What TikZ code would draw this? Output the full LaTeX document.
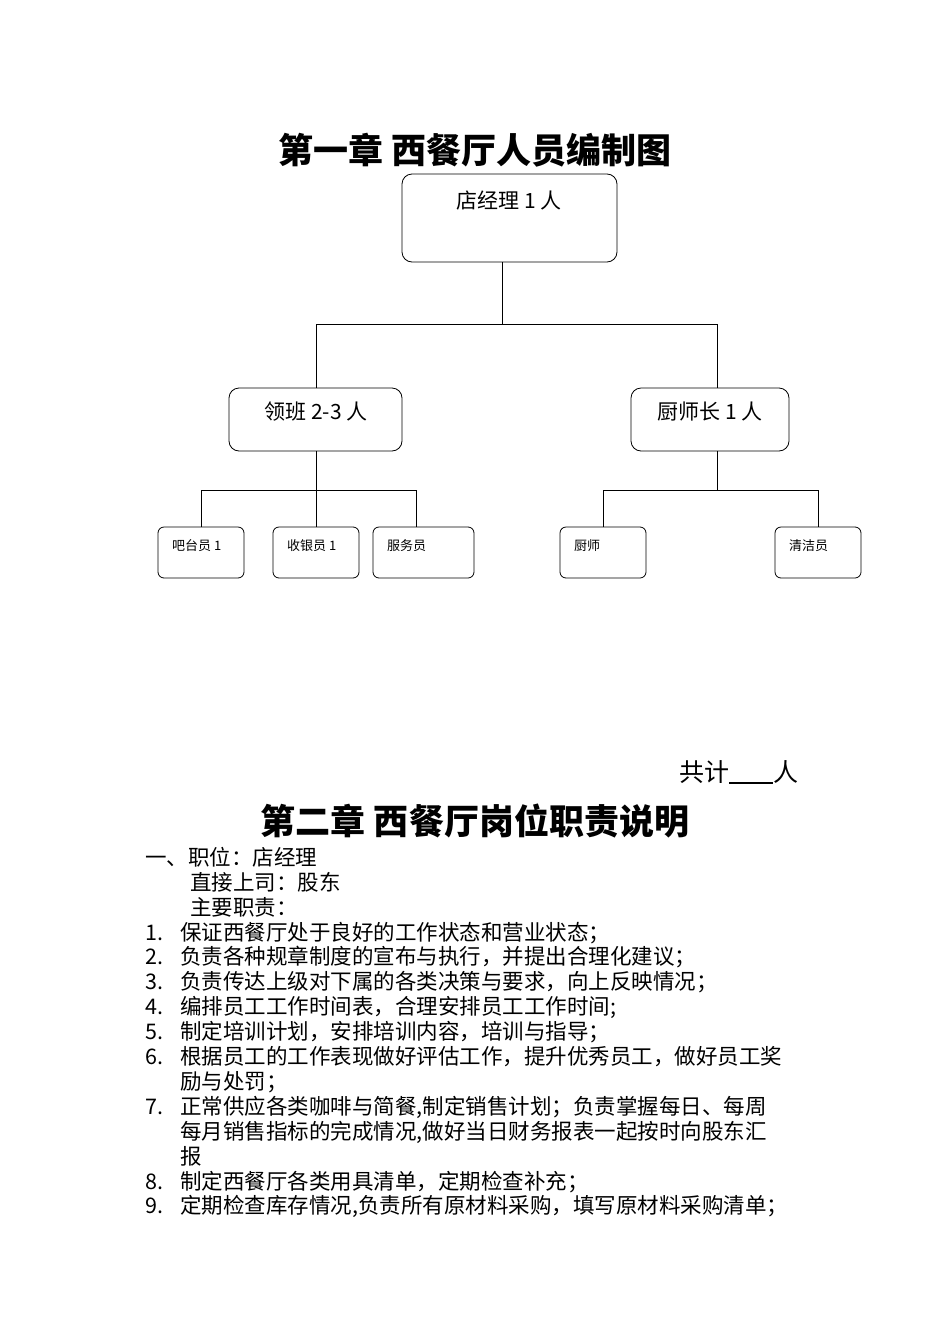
\documentclass[tikz,border=0pt]{standalone}
\usepackage{fontspec}
\setmainfont{Liberation Serif}
\newfontfamily\cjk{Noto Sans CJK SC}
\begin{document}
\begin{tikzpicture}[x=1pt,y=-1pt,
 box/.style={draw,rounded corners=10pt,line width=0.8pt},
 sbox/.style={draw,rounded corners=6pt,line width=0.8pt},
 ln/.style={line width=0.8pt},
 bt/.style={anchor=base west,font=\cjk\fontsize{21.5}{21.5}\selectfont,inner sep=0pt},
 tt/.style={font=\cjk\bfseries\fontsize{35}{35}\selectfont,inner sep=0pt}]
\useasboundingbox (0,0) rectangle (950,1344);
\node[tt] (t1) at (475,150) {第一章 西餐厅人员编制图};
\draw[box] (402,174) rectangle (617,262);
\node[font=\cjk\fontsize{21}{21}\selectfont] (m) at (509,201) {店经理 1 人};
\draw[box] (229,388) rectangle (402,451);
\node[font=\cjk\fontsize{21}{21}\selectfont] (l) at (316,412) {领班 2-3 人};
\draw[box] (631,388) rectangle (789,451);
\node[font=\cjk\fontsize{21}{21}\selectfont] (c) at (710,412) {厨师长 1 人};
\foreach \a/\b/\t/\n in {158/244/{吧台员 1}/s1,273/359/{收银员 1}/s2,373/474/{服务员}/s3,560/646/{厨师}/s4,775/861/{清洁员}/s5}{
 \draw[sbox] (\a,527) rectangle (\b,578);
 \node[anchor=base west,font=\cjk\fontsize{13}{13}\selectfont,inner sep=0pt] (\n) at (\a+14,550) {\t};
}
\coordinate (p1) at (502,262); \coordinate (p2) at (502,324);
\draw[ln] (p1)--(p2);
\draw[ln] (316,388)--(316,324)--(717,324)--(717,388);
\draw[ln] (316,451)--(316,490);
\draw[ln] (201,527)--(201,490)--(416,490)--(416,527);
\draw[ln] (316,490)--(316,527);
\draw[ln] (717,451)--(717,490);
\draw[ln] (603,527)--(603,490)--(818,490)--(818,527);
\node[font=\cjk\fontsize{25}{25}\selectfont,anchor=base west,inner sep=0pt] (tot) at (679,781) {共计\rule[-3pt]{44pt}{2pt}人};
\node[tt] (t2) at (475,821) {第二章 西餐厅岗位职责说明};
\node[bt] (a0) at (145,865) {一、职位：店经理};
\node[bt] (a1) at (190,890) {直接上司：股东};
\node[bt] (a2) at (190,915) {主要职责：};
\foreach \y/\n/\t in {940/1./{保证西餐厅处于良好的工作状态和营业状态；},
 964/2./{负责各种规章制度的宣布与执行，并提出合理化建议；},
 989/3./{负责传达上级对下属的各类决策与要求，向上反映情况；},
 1014/4./{编排员工工作时间表，合理安排员工工作时间;},
 1039/5./{制定培训计划，安排培训内容，培训与指导；},
 1064/6./{根据员工的工作表现做好评估工作，提升优秀员工，做好员工奖},
 1114/7./{正常供应各类咖啡与简餐,制定销售计划；负责掌握每日、每周},
 1189/8./{制定西餐厅各类用具清单，定期检查补充；},
 1213/9./{定期检查库存情况,负责所有原材料采购，填写原材料采购清单；}}{
 \node[bt] at (145,\y) {\n};
 \node[bt] at (180,\y) {\t};
}
\node[bt] (c6) at (180,1089) {励与处罚；};
\node[bt] (c7a) at (180,1139) {每月销售指标的完成情况,做好当日财务报表一起按时向股东汇};
\node[bt] (c7b) at (180,1164) {报};
\end{tikzpicture}
\end{document}
